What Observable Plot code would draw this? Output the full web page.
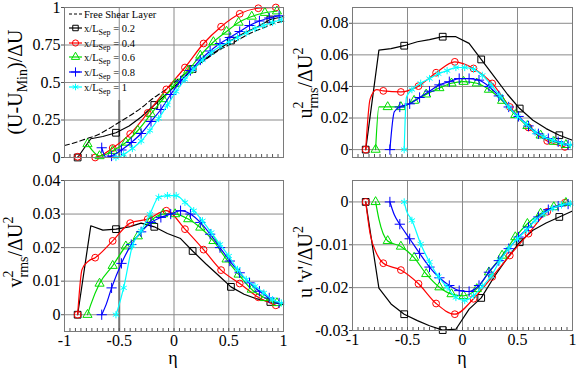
<!DOCTYPE html>
<html><head><meta charset="utf-8">
<script src="https://cdn.jsdelivr.net/npm/d3@7"></script>
<script src="https://cdn.jsdelivr.net/npm/@observablehq/plot@0.6"></script>
<style>
body{margin:0;background:#fff;}
#wrap{position:relative;width:581px;height:368px;font-family:"Liberation Serif","Times New Roman",serif;}
#wrap svg{position:absolute;overflow:visible;}
</style></head><body><div id="wrap"></div>
<script>
// ---------- data ----------
const X_TICKS = [-1, -0.5, 0, 0.5, 1];
const X_GRID = [-0.5, 0, 0.5];
const X_MINOR = d3.range(-19, 20).map(i => i / 20);
const Y1_TICKS = [0, 0.25, 0.5, 0.75, 1];
const Y2_TICKS = [0, 0.02, 0.04, 0.06, 0.08];
const Y3_TICKS = [0, 0.01, 0.02, 0.03, 0.04];
const Y4_TICKS = [-0.03, -0.02, -0.01, 0];

const legendLabels = ["0.2", "0.4", "0.6", "0.8", "1"];
const colors = ["#000000", "#ff0000", "#00dd00", "#0000ff", "#00ffff"];
const symbols = ["square", "circle", "triangle", "plus", "asterisk"];

// Free shear layer (dashed, top-left only)
const etaFSL = [-1,-0.9,-0.8,-0.7,-0.6,-0.5,-0.4,-0.3,-0.2,-0.1,0,0.1,0.2,0.3,0.4,0.5,0.6,0.7,0.8,0.9,1];
const uFSL   = [0.08,0.10,0.125,0.15,0.19,0.235,0.28,0.33,0.39,0.44,0.50,0.56,0.61,0.66,0.71,0.75,0.79,0.83,0.86,0.89,0.91];

// x/L_Sep = 0.2
const etaBlack  = [-0.88,-0.76,-0.65,-0.53,-0.41,-0.30,-0.18,-0.06,0.06,0.17,0.29,0.41,0.52,0.64,0.76,0.88,1.0];
const markBlack = [1,0,0,1,0,0,1,0,0,1,0,0,1,0,0,1,0];
const uBlack  = [0,0.125,0.14,0.165,0.21,0.27,0.35,0.43,0.51,0.59,0.66,0.72,0.78,0.83,0.87,0.92,0.94];
const u2Black = [0,0.063,0.064,0.0658,0.0683,0.0697,0.0715,0.0715,0.0673,0.0571,0.0461,0.0349,0.026,0.0186,0.0133,0.0091,0.0059];
const v2Black = [0,0.0265,0.0252,0.0255,0.0262,0.0273,0.0262,0.0242,0.0227,0.019,0.0152,0.0116,0.0083,0.0061,0.0047,0.0038,0.003];
const uvBlack = [0,-0.0201,-0.0238,-0.0262,-0.0277,-0.0289,-0.0299,-0.0297,-0.025,-0.0224,-0.0174,-0.013,-0.0094,-0.0066,-0.0049,-0.0035,-0.0021];

// x/L_Sep = 0.4
const etaRed  = [-0.88,-0.84,-0.78,-0.72,-0.56,-0.40,-0.24,-0.07,0.10,0.27,0.43,0.60,0.77,0.93];
const markRed = [1,0,0,1,1,1,1,1,1,1,1,1,1,1];
const uRed  = [0.005,0,0,0,0.063,0.157,0.297,0.454,0.60,0.76,0.872,0.958,0.995,1.0];
const u2Red = [0,0.032,0.038,0.0372,0.0365,0.0402,0.0487,0.0556,0.0514,0.0419,0.027,0.014,0.0055,0.0017];
const v2Red = [0,0.0135,0.016,0.017,0.022,0.0273,0.0285,0.031,0.0255,0.0194,0.0133,0.0093,0.0052,0.0028];
const uvRed = [0,-0.0074,-0.0121,-0.0143,-0.0159,-0.0191,-0.0237,-0.0262,-0.0226,-0.0175,-0.0125,-0.0074,-0.0023,-0.0002];

// x/L_Sep = 0.6
const etaGreen  = [-0.79,-0.76,-0.68,-0.56,-0.44,-0.33,-0.21,-0.10,0.01,0.13,0.24,0.36,0.48,0.59,0.71,0.83,0.94];
const markGreen = [1,0,1,1,1,1,1,1,1,1,1,1,1,1,1,1,1];
const uGreen  = [0.09,0.06,0.01,0.045,0.10,0.18,0.29,0.39,0.49,0.58,0.68,0.77,0.84,0.90,0.94,0.965,0.975];
const u2Green = [0,0.027,0.027,0.027,0.031,0.035,0.039,0.042,0.043,0.042,0.038,0.031,0.022,0.015,0.009,0.005,0.003];
const v2Green = [0,0.003,0.0093,0.0146,0.0204,0.0234,0.0281,0.030,0.030,0.0285,0.026,0.022,0.0165,0.012,0.0075,0.005,0.0035];
const uvGreen = [0,-0.004,-0.0091,-0.0104,-0.013,-0.0168,-0.0199,-0.0215,-0.0219,-0.0203,-0.0164,-0.0125,-0.0082,-0.0051,-0.0027,-0.0012,-0.0002];

// x/L_Sep = 0.8
const etaBlue  = [-0.66,-0.62,-0.57,-0.48,-0.39,-0.30,-0.21,-0.12,-0.03,0.06,0.15,0.24,0.33,0.42,0.51,0.60,0.69,0.78,0.87,0.96];
const markBlue = [1,0,1,1,1,1,1,1,1,1,1,1,1,1,1,1,1,1,1,1];
const uBlue  = [0.065,0,0.01,0.05,0.10,0.16,0.24,0.32,0.42,0.51,0.58,0.65,0.71,0.76,0.80,0.84,0.88,0.91,0.93,0.945];
const u2Blue = [0,0.024,0.027,0.029,0.033,0.037,0.041,0.043,0.045,0.045,0.044,0.040,0.034,0.027,0.021,0.015,0.010,0.007,0.005,0.003];
const v2Blue = [0,0.003,0.008,0.0153,0.0209,0.0247,0.0275,0.029,0.030,0.031,0.030,0.0275,0.024,0.020,0.016,0.0125,0.0095,0.007,0.005,0.0035];
const uvBlue = [0,-0.003,-0.0052,-0.0086,-0.012,-0.0152,-0.0177,-0.0195,-0.0207,-0.0209,-0.0195,-0.0164,-0.0137,-0.0109,-0.0082,-0.0059,-0.0035,-0.0018,-0.001,-0.0005];

// x/L_Sep = 1
const etaCyan  = [-0.53,-0.51,-0.46,-0.38,-0.30,-0.22,-0.14,-0.06,0.02,0.10,0.18,0.26,0.34,0.42,0.50,0.58,0.66,0.74,0.82,0.90,0.98];
const markCyan = [1,0,1,1,1,1,1,1,1,1,1,1,1,1,1,1,1,1,1,1,1];
const uCyan  = [0,0,0.02,0.06,0.11,0.18,0.26,0.35,0.44,0.52,0.59,0.65,0.70,0.74,0.77,0.80,0.83,0.86,0.88,0.90,0.92];
const u2Cyan = [0,0.033,0.038,0.042,0.045,0.048,0.050,0.052,0.052,0.051,0.047,0.041,0.034,0.027,0.021,0.016,0.011,0.008,0.006,0.004,0.003];
const v2Cyan = [0,0.002,0.008,0.0205,0.025,0.030,0.035,0.0355,0.0355,0.0335,0.031,0.028,0.0245,0.021,0.0175,0.0135,0.0105,0.0085,0.0065,0.0045,0.0035];
const uvCyan = [0,-0.002,-0.0043,-0.0098,-0.014,-0.0174,-0.0199,-0.0223,-0.023,-0.0219,-0.0197,-0.0173,-0.0137,-0.0109,-0.0086,-0.0066,-0.0043,-0.0027,-0.0015,-0.0007,-0.0004];

// vertical reference line at eta = -0.5
const refEta = [-0.5];
const refTopU = 0.38;

// ---------- build ----------
const series = [
  {eta: etaBlack, mark: markBlack, u: uBlack, u2: u2Black, v2: v2Black, uv: uvBlack, smooth: false},
  {eta: etaRed, mark: markRed, u: uRed, u2: u2Red, v2: v2Red, uv: uvRed, smooth: true},
  {eta: etaGreen, mark: markGreen, u: uGreen, u2: u2Green, v2: v2Green, uv: uvGreen, smooth: true},
  {eta: etaBlue, mark: markBlue, u: uBlue, u2: u2Blue, v2: v2Blue, uv: uvBlue, smooth: true},
  {eta: etaCyan, mark: markCyan, u: uCyan, u2: u2Cyan, v2: v2Cyan, uv: uvCyan, smooth: true}
];
const fmt = d => String(d);
const GRID = "#8a8a8a";
const FF = '"Liberation Serif", "Times New Roman", serif';
const wrap = document.getElementById("wrap");

function panel(cfg) {
  const marks = [
    Plot.ruleX(X_GRID, {stroke: GRID, strokeWidth: 1}),
    Plot.ruleY(cfg.yTicks, {stroke: GRID, strokeWidth: 1}),
    ...(cfg.extra || []),
    Plot.axisX({ticks: X_MINOR, tickSize: -3, tickFormat: () => "", stroke: "#555", label: null}),
    Plot.axisY({ticks: cfg.yTicks, tickFormat: fmt, tickSize: 3, tickPadding: 1, fontSize: 16, fontFamily: FF, stroke: "#555", label: null})
  ];
  if (cfg.showX) marks.push(Plot.axisX({ticks: X_TICKS, tickFormat: fmt, tickSize: 0, tickPadding: 3, fontSize: 16, fontFamily: FF, label: null}));
  series.forEach((s, i) => {
    const rows = s.eta.map((e, j) => ({eta: e, v: s[cfg.key][j], m: s.mark[j]}));
    marks.push(Plot.line(rows, {x: "eta", y: "v", stroke: colors[i], strokeWidth: 1.2,
      curve: s.smooth ? "monotone-x" : "linear"}));
    marks.push(Plot.dot(rows.filter(r => r.m), {x: "eta", y: "v", stroke: colors[i], fill: "none",
      symbol: symbols[i], r: i === 0 ? 3.8 : 3.4, strokeWidth: 1}));
  });
  marks.push(Plot.frame({stroke: "#7a7a7a"}));
  const svg = Plot.plot({
    width: cfg.width, height: cfg.height,
    marginLeft: cfg.mL, marginRight: cfg.mR, marginTop: cfg.mT, marginBottom: cfg.mB,
    x: {domain: [-1, 1], label: null},
    y: {domain: cfg.yDomain, label: null},
    style: {fontFamily: FF, fontSize: "16px", background: "transparent", color: "#000"},
    marks
  });
  svg.style.left = cfg.left + "px";
  svg.style.top = cfg.top + "px";
  wrap.appendChild(svg);
  return svg;
}

const p1 = panel({key: "u", yDomain: [0, 1], yTicks: Y1_TICKS, left: 0, top: 0, width: 290, height: 170,
  mL: 64, mR: 7, mT: 7, mB: 13, showX: false,
  extra: [
    Plot.ruleX(refEta, {y1: 0, y2: refTopU, stroke: "#777", strokeWidth: 2}),
    Plot.line(etaFSL.map((e, j) => ({eta: e, v: uFSL[j]})), {x: "eta", y: "v", stroke: "#000", strokeWidth: 1.1, strokeDasharray: "5,3", curve: "monotone-x"})
  ]});
const p2 = panel({key: "u2", yDomain: [-0.005, 0.09], yTicks: Y2_TICKS, left: 290, top: 0, width: 291, height: 170,
  mL: 62, mR: 9, mT: 7, mB: 13, showX: false});
const p3 = panel({key: "v2", yDomain: [-0.005, 0.04], yTicks: Y3_TICKS, left: 0, top: 170, width: 290, height: 198,
  mL: 64, mR: 7, mT: 10, mB: 37, showX: true,
  extra: [Plot.ruleX(refEta, {stroke: "#777", strokeWidth: 2})]});
const p4 = panel({key: "uv", yDomain: [-0.03, 0.005], yTicks: Y4_TICKS, left: 290, top: 170, width: 291, height: 198,
  mL: 62, mR: 9, mT: 10, mB: 38, showX: true});

// ---------- axis titles ----------
function title(svg, x, y, parts) {
  const t = d3.select(svg).append("text")
    .attr("transform", `translate(${x},${y}) rotate(-90)`)
    .attr("text-anchor", "middle").attr("font-family", FF).attr("font-size", 20).attr("fill", "#000");
  parts.forEach(p => {
    const ts = t.append("tspan").text(p.t);
    if (p.s) ts.attr("font-size", p.s);
    if (p.dx) ts.attr("dx", p.dx);
    if (p.dy) ts.attr("dy", p.dy);
  });
}
title(p1, 22, 82, [{t: "(U-U"}, {t: "Min", s: 14, dy: 5}, {t: ")/ΔU", dy: -5}]);
title(p2, 22, 83, [{t: "u"}, {t: "2", s: 14, dy: -9}, {t: "rms", s: 14, dx: -7, dy: 15}, {t: "/ΔU", dy: -6}, {t: "2", s: 14, dy: -9}]);
title(p3, 22, 252 - 170, [{t: "v"}, {t: "2", s: 14, dy: -9}, {t: "rms", s: 14, dx: -7, dy: 15}, {t: "/ΔU", dy: -6}, {t: "2", s: 14, dy: -9}]);
title(p4, 22, 262 - 170, [{t: "u 'v'/ΔU"}, {t: "2", s: 14, dy: -9}]);

// eta labels
[p3, p4].forEach((svg, k) => {
  d3.select(svg).append("text").attr("x", k === 0 ? 173 : 172).attr("y", 364 - 170)
    .attr("text-anchor", "middle").attr("font-family", FF).attr("font-size", 18).text("η");
});

// ---------- legend (inside top-left panel) ----------
const lg = d3.select(p1).append("g").attr("font-family", FF).attr("font-size", 10.5).attr("text-anchor", "start");
const rowsY = [14, 28, 43, 57, 72, 87];
lg.append("line").attr("x1", 69).attr("x2", 82).attr("y1", rowsY[0]).attr("y2", rowsY[0])
  .attr("stroke", "#000").attr("stroke-dasharray", "3,2");
lg.append("text").attr("x", 84).attr("y", rowsY[0] + 3.5).text("Free Shear Layer");
const symMap = {square: d3.symbolSquare, circle: d3.symbolCircle, triangle: d3.symbolTriangle, plus: d3.symbolPlus, asterisk: d3.symbolAsterisk};
legendLabels.forEach((lab, i) => {
  const y = rowsY[i + 1];
  lg.append("line").attr("x1", 69).attr("x2", 82).attr("y1", y).attr("y2", y).attr("stroke", colors[i]).attr("stroke-width", 1.2);
  lg.append("path").attr("transform", `translate(75.5,${y})`).attr("d", d3.symbol(symMap[symbols[i]], 30)())
    .attr("fill", "none").attr("stroke", colors[i]);
  const t = lg.append("text").attr("x", 84).attr("y", y + 3.5);
  t.append("tspan").text("x/L");
  t.append("tspan").attr("font-size", 8).attr("dy", 3).text("Sep");
  t.append("tspan").attr("dy", -3).text(" = " + lab);
});
</script></body></html>
